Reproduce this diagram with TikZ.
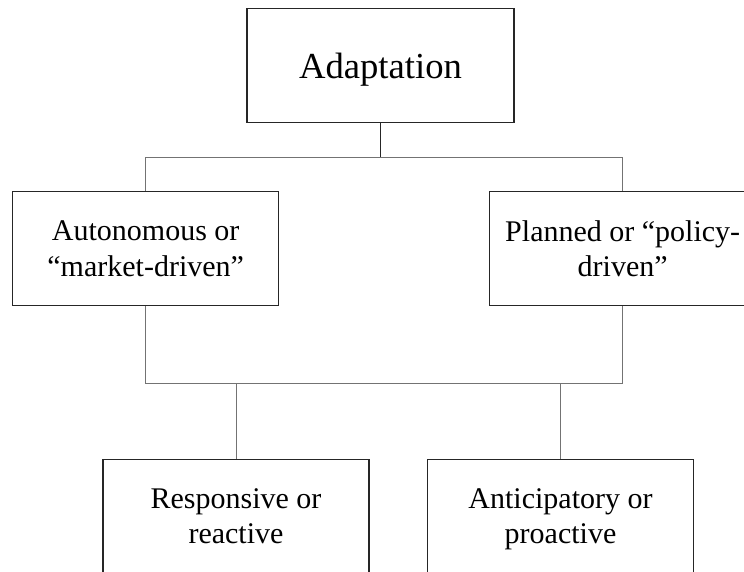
\documentclass[tikz,border=0pt]{standalone}
\usepackage{fontspec}
\setmainfont{Liberation Serif}
\tikzset{
  box/.style={draw=black!85, line width=1.1pt, minimum width=199.5pt, minimum height=85.5pt,
    inner sep=0pt, align=center, text depth=0pt, font=\fontsize{22.5}{26.5}\selectfont},
  link/.style={draw=black!55, line width=0.7pt},
}
\begin{document}
\begin{tikzpicture}[x=0.75pt,y=0.75pt]
\clip (0,0) rectangle (744,572);
\useasboundingbox (0,0) rectangle (744,572);
\node[box, minimum width=200.25pt, font=\fontsize{27.5}{32}\selectfont] (adapt) at (380.5,506.7) {Adaptation};
\node[box] (auto) at (145.7,323.3) {Autonomous or\\``market-driven''};
\node[box] (plan) at (622.7,323.3) {Planned or ``policy-\\driven''};
\node[box] (resp) at (236,55.7) {Responsive or\\reactive};
\node[box] (antic) at (560.5,55.7) {Anticipatory or\\proactive};
\coordinate (bus1) at (380.5,414.7);
\coordinate (bus2) at (380.5,188.7);
\draw[draw=black!85, line width=1pt] (adapt.south) -- (bus1);
\draw[link] (auto.north) -- (auto.north |- bus1) -| (plan.north);
\draw[link] (auto.south) -- (auto.south |- bus2) -| (plan.south);
\draw[link] (resp.north) -- (resp.north |- bus2);
\draw[link] (antic.north) -- (antic.north |- bus2);
\end{tikzpicture}
\end{document}
